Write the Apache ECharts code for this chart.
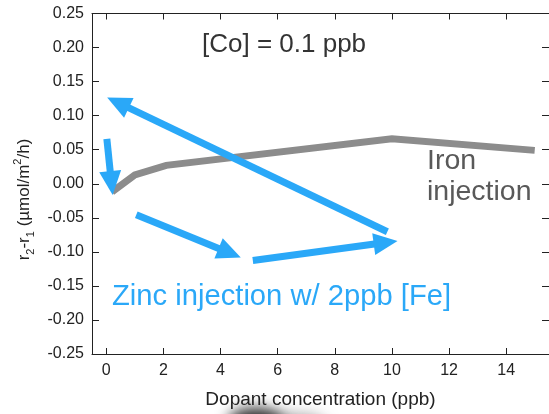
<!DOCTYPE html>
<html>
<head>
<meta charset="utf-8">
<script src="https://cdn.jsdelivr.net/npm/echarts@6/dist/echarts.min.js"></script>
<style>
  html, body { margin: 0; padding: 0; background: #fff; }
  #chart { width: 549px; height: 414px; }
</style>
</head>
<body>
<div id="chart"></div>
<script>
// Iron injection response: dopant concentration (ppb) vs r2 - r1
const ironDose = [0.2, 1, 2.1, 10, 15];
const ironRate = [-0.012, 0.013, 0.027, 0.066, 0.049];

// Zinc injection trajectory (with 2 ppb Fe), drawn as arrows: tail -> head
const zincArrowTail = [[0.02, 0.066], [9.84, -0.0705], [1.05, -0.0455], [5.13, -0.1126]];
const zincArrowHead = [[0.18, 0.001], [0.41, 0.119], [4.32, -0.1016], [9.78, -0.0863]];

// Axis ticks
const xTicks = [0, 2, 4, 6, 8, 10, 12, 14];
const yTicks = [-0.25, -0.2, -0.15, -0.1, -0.05, 0, 0.05, 0.1, 0.15, 0.2, 0.25];

const FONT = '"Liberation Sans", Arial, sans-serif';
const BLUE = '#2aa8f8';
const GRAY = '#8c8c8c';

const chart = echarts.init(document.getElementById('chart'), null, { renderer: 'canvas' });

const fmtY = v => (Math.abs(v) < 1e-9 ? 0 : v).toFixed(2);

const xBase = {
  type: 'value', min: -0.5, max: 15.5,
  splitLine: { show: false },
  axisLine: { show: true, onZero: false, lineStyle: { color: '#222', width: 1 } },
  axisTick: { show: true, inside: true, length: 6, customValues: xTicks, lineStyle: { color: '#222' } }
};
const yBase = {
  type: 'value', min: -0.25, max: 0.25, interval: 0.05,
  splitLine: { show: false },
  axisLine: { show: true, onZero: false, lineStyle: { color: '#222', width: 1 } },
  axisTick: { show: true, inside: true, length: 7, customValues: yTicks, lineStyle: { color: '#222' } }
};

chart.setOption({
  animation: false,
  backgroundColor: '#fff',
  grid: { left: 92, top: 13.5, width: 462, height: 341.5, containLabel: false },
  xAxis: [
    Object.assign({}, xBase, {
      position: 'bottom',
      name: 'Dopant concentration (ppb)',
      nameLocation: 'middle',
      nameGap: 36,
      nameTextStyle: { fontFamily: FONT, fontSize: 19, color: '#222' },
      axisLabel: { show: true, customValues: xTicks, margin: 9, fontFamily: FONT, fontSize: 16, color: '#222' }
    }),
    Object.assign({}, xBase, {
      position: 'top',
      axisLabel: { show: false }
    })
  ],
  yAxis: [
    Object.assign({}, yBase, {
      position: 'left',
      axisLabel: { show: true, customValues: yTicks, formatter: fmtY, margin: 8, fontFamily: FONT, fontSize: 16, color: '#222' }
    }),
    Object.assign({}, yBase, {
      position: 'right',
      axisLabel: { show: false }
    })
  ],
  series: [
    {
      name: 'Iron injection',
      type: 'line',
      xAxisIndex: 0, yAxisIndex: 0,
      data: ironDose.map((x, i) => [x, ironRate[i]]),
      symbol: 'none',
      lineStyle: { color: GRAY, width: 7, join: 'miter', cap: 'butt' },
      emphasis: { disabled: true },
      silent: true
    },
    {
      name: 'Zinc injection',
      type: 'line',
      xAxisIndex: 0, yAxisIndex: 0,
      data: [],
      symbol: 'none',
      silent: true,
      markLine: {
        silent: true,
        animation: false,
        symbol: ['none', 'triangle'],
        symbolSize: [22, 24],
        label: { show: false },
        emphasis: { disabled: true },
        lineStyle: { color: BLUE, width: 7, type: 'solid', cap: 'butt', opacity: 1 },
        data: zincArrowTail.map((t, i) => [{ coord: t }, { coord: zincArrowHead[i] }])
      }
    }
  ],
  graphic: [
    {
      type: 'text', x: 24.5, y: 199.5, rotation: Math.PI / 2, silent: true,
      style: {
        text: '{b|r}{s|2}{b|-r}{s|1}{b| (µmol/m}{p|2}{b|/h)}',
        align: 'center', verticalAlign: 'middle',
        rich: {
          b: { fontFamily: FONT, fontSize: 17, lineHeight: 24, fill: '#222' },
          s: { fontFamily: FONT, fontSize: 11, lineHeight: 11, verticalAlign: 'bottom', fill: '#222' },
          p: { fontFamily: FONT, fontSize: 11, lineHeight: 11, verticalAlign: 'top', fill: '#222' }
        }
      }
    },
    {
      type: 'text', x: 202, y: 45, silent: true,
      style: { text: '[Co] = 0.1 ppb', fontFamily: FONT, fontSize: 26, fill: '#333', verticalAlign: 'middle' }
    },
    {
      type: 'text', x: 427, y: 176.5, silent: true,
      style: { text: 'Iron\ninjection', fontFamily: FONT, fontSize: 28.5, lineHeight: 31, fill: '#595959', verticalAlign: 'middle' }
    },
    {
      type: 'text', x: 112, y: 297, silent: true,
      style: { text: 'Zinc injection w/ 2ppb [Fe]', fontFamily: FONT, fontSize: 29.2, fill: BLUE, verticalAlign: 'middle' }
    },
    {
      // soft grey smudge along the bottom edge: faint tail to the right
      type: 'ellipse', silent: true, z: -1,
      shape: { cx: 296, cy: 724, rx: 30, ry: 10 },
      style: { fill: '#777', shadowColor: 'rgba(90,90,90,0.55)', shadowBlur: 14, shadowOffsetX: 0, shadowOffsetY: -300 }
    },
    {
      // darker core of the smudge
      type: 'ellipse', silent: true, z: -1,
      shape: { cx: 256, cy: 722, rx: 28, ry: 14 },
      style: { fill: '#333', shadowColor: 'rgba(40,40,40,1)', shadowBlur: 14, shadowOffsetX: 0, shadowOffsetY: -300 }
    }
  ]
});
</script>
</body>
</html>
